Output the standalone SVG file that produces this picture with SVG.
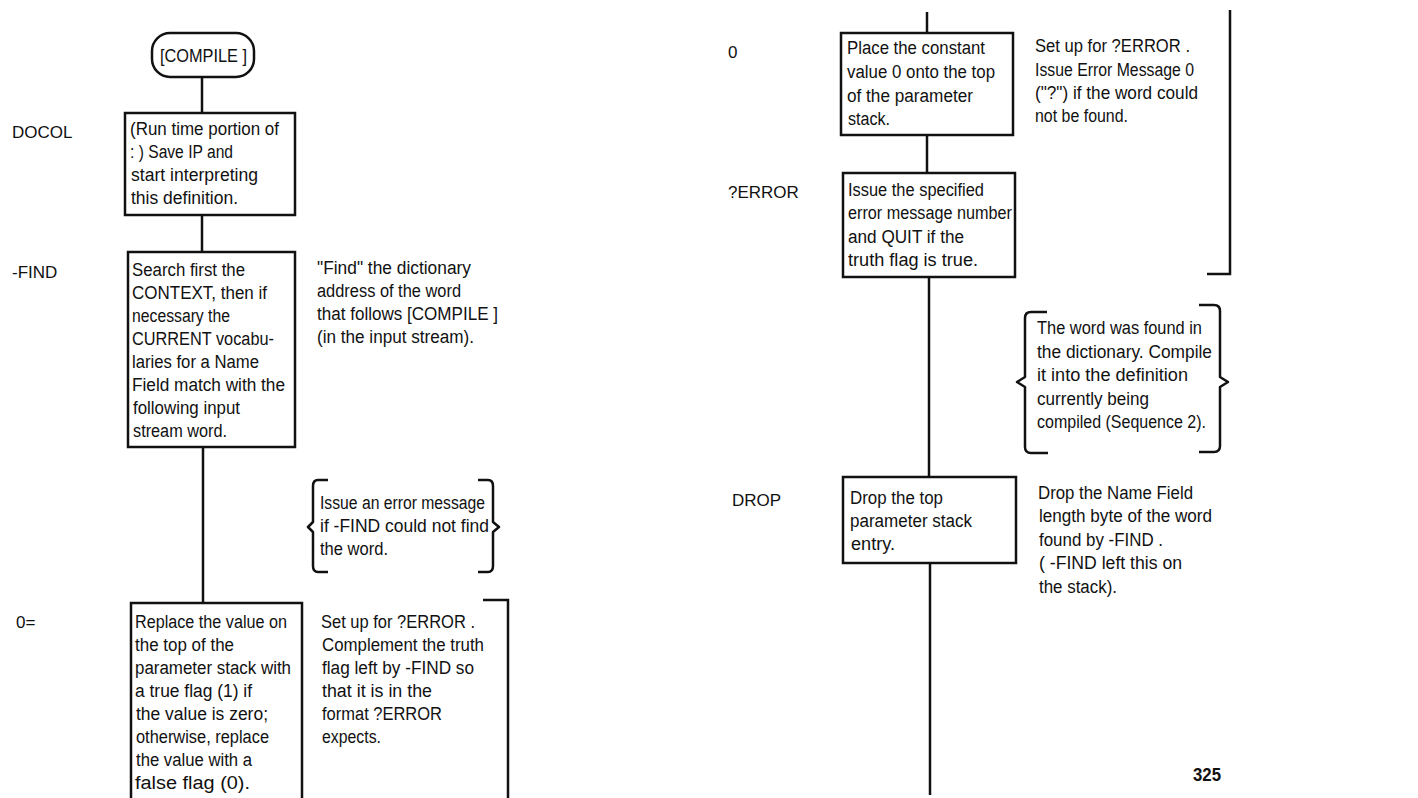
<svg xmlns="http://www.w3.org/2000/svg" width="1418" height="798" viewBox="0 0 1418 798">
<style>
.box{fill:#fff;stroke:#111;stroke-width:2.5}
.ln{fill:none;stroke:#111;stroke-width:2.5}
.br{fill:none;stroke:#111;stroke-width:2.5;stroke-linejoin:round}
.t{font-family:"Liberation Sans",sans-serif;font-size:18px;fill:#111}
.lb{font-family:"Liberation Sans",sans-serif;font-size:17px;fill:#111}
.pg{font-family:"Liberation Sans",sans-serif;font-size:18px;font-weight:bold;fill:#111}
</style>
<rect width="1418" height="798" fill="#fff"/>
<g id="connectors">
<line class="ln" x1="202" y1="77" x2="202" y2="113"/>
<line class="ln" x1="202" y1="215" x2="202" y2="252"/>
<line class="ln" x1="203" y1="447" x2="203" y2="603"/>
<line class="ln" x1="927" y1="12" x2="927" y2="33"/>
<line class="ln" x1="927" y1="135" x2="927" y2="173"/>
<line class="ln" x1="929" y1="277" x2="929" y2="477"/>
<line class="ln" x1="930" y1="563" x2="930" y2="795"/>
</g>
<g id="compile">
<rect class="box" x="152" y="33" width="102" height="44" rx="18"/>
<text class="t" x="160" y="62" textLength="87" lengthAdjust="spacingAndGlyphs">[COMPILE ]</text>
</g>
<g id="docol">
<text class="lb" x="12" y="138">DOCOL</text>
<rect class="box" x="125" y="113" width="170" height="102"/>
<text class="t" x="130" y="135" textLength="149" lengthAdjust="spacingAndGlyphs">(Run time portion of</text>
<text class="t" x="130" y="158" textLength="103" lengthAdjust="spacingAndGlyphs">: ) Save IP and</text>
<text class="t" x="131" y="181" textLength="127" lengthAdjust="spacingAndGlyphs">start interpreting</text>
<text class="t" x="131" y="204" textLength="107" lengthAdjust="spacingAndGlyphs">this definition.</text>
</g>
<g id="find">
<text class="lb" x="12" y="278">-FIND</text>
<rect class="box" x="128" y="252" width="167" height="195"/>
<text class="t" x="132" y="276" textLength="113" lengthAdjust="spacingAndGlyphs">Search first the</text>
<text class="t" x="132" y="299" textLength="135" lengthAdjust="spacingAndGlyphs">CONTEXT, then if</text>
<text class="t" x="132" y="322" textLength="98" lengthAdjust="spacingAndGlyphs">necessary the</text>
<text class="t" x="132" y="345" textLength="142" lengthAdjust="spacingAndGlyphs">CURRENT vocabu-</text>
<text class="t" x="132" y="368" textLength="127" lengthAdjust="spacingAndGlyphs">laries for a Name</text>
<text class="t" x="132" y="391" textLength="153" lengthAdjust="spacingAndGlyphs">Field match with the</text>
<text class="t" x="133" y="414" textLength="107" lengthAdjust="spacingAndGlyphs">following input</text>
<text class="t" x="133" y="437" textLength="94" lengthAdjust="spacingAndGlyphs">stream word.</text>
</g>
<g id="find-note">
<text class="t" x="317" y="274" textLength="154" lengthAdjust="spacingAndGlyphs">"Find" the dictionary</text>
<text class="t" x="317" y="297" textLength="144" lengthAdjust="spacingAndGlyphs">address of the word</text>
<text class="t" x="317" y="320" textLength="181" lengthAdjust="spacingAndGlyphs">that follows [COMPILE ]</text>
<text class="t" x="317" y="343" textLength="157" lengthAdjust="spacingAndGlyphs">(in the input stream).</text>
</g>
<g id="error-note">
<path class="br" d="M328,480 L318,480 Q313,480 313,486 L313,522 L308,527 L313,532 L313,566 Q313,572 318,572 L328,572"/>
<path class="br" d="M478,480 L488,480 Q493,480 493,486 L493,522 L499,527 L493,532 L493,566 Q493,572 488,572 L478,572"/>
<text class="t" x="320" y="509" textLength="165" lengthAdjust="spacingAndGlyphs">Issue an error message</text>
<text class="t" x="320" y="532" textLength="169" lengthAdjust="spacingAndGlyphs">if -FIND could not find</text>
<text class="t" x="320" y="555" textLength="68" lengthAdjust="spacingAndGlyphs">the word.</text>
</g>
<g id="zeroeq">
<text class="lb" x="16" y="628">0=</text>
<rect class="box" x="131" y="603" width="171" height="210"/>
<text class="t" x="135" y="628" textLength="152" lengthAdjust="spacingAndGlyphs">Replace the value on</text>
<text class="t" x="135" y="651" textLength="99" lengthAdjust="spacingAndGlyphs">the top of the</text>
<text class="t" x="135" y="674" textLength="156" lengthAdjust="spacingAndGlyphs">parameter stack with</text>
<text class="t" x="135" y="697" textLength="117" lengthAdjust="spacingAndGlyphs">a true flag (1) if</text>
<text class="t" x="136" y="720" textLength="132" lengthAdjust="spacingAndGlyphs">the value is zero;</text>
<text class="t" x="136" y="743" textLength="133" lengthAdjust="spacingAndGlyphs">otherwise, replace</text>
<text class="t" x="136" y="766" textLength="116" lengthAdjust="spacingAndGlyphs">the value with a</text>
<text class="t" x="135" y="789" textLength="115" lengthAdjust="spacingAndGlyphs">false flag (0).</text>
</g>
<g id="zeroeq-note">
<text class="t" x="321" y="628" textLength="154" lengthAdjust="spacingAndGlyphs">Set up for ?ERROR .</text>
<text class="t" x="322" y="651" textLength="162" lengthAdjust="spacingAndGlyphs">Complement the truth</text>
<text class="t" x="322" y="674" textLength="152" lengthAdjust="spacingAndGlyphs">flag left by -FIND so</text>
<text class="t" x="322" y="697" textLength="110" lengthAdjust="spacingAndGlyphs">that it is in the</text>
<text class="t" x="322" y="720" textLength="120" lengthAdjust="spacingAndGlyphs">format ?ERROR</text>
<text class="t" x="322" y="743" textLength="59" lengthAdjust="spacingAndGlyphs">expects.</text>
<path class="ln" d="M483,600 L508,600 L508,798"/>
</g>
<g id="zero">
<text class="lb" x="728" y="58">0</text>
<rect class="box" x="841" y="33" width="172" height="102"/>
<text class="t" x="847" y="54" textLength="138" lengthAdjust="spacingAndGlyphs">Place the constant</text>
<text class="t" x="847" y="78" textLength="148" lengthAdjust="spacingAndGlyphs">value 0 onto the top</text>
<text class="t" x="847" y="102" textLength="126" lengthAdjust="spacingAndGlyphs">of the parameter</text>
<text class="t" x="848" y="125" textLength="42" lengthAdjust="spacingAndGlyphs">stack.</text>
</g>
<g id="zero-note">
<text class="t" x="1035" y="52" textLength="155" lengthAdjust="spacingAndGlyphs">Set up for ?ERROR .</text>
<text class="t" x="1035" y="76" textLength="159" lengthAdjust="spacingAndGlyphs">Issue Error Message 0</text>
<text class="t" x="1035" y="99" textLength="163" lengthAdjust="spacingAndGlyphs">("?") if the word could</text>
<text class="t" x="1035" y="122" textLength="93" lengthAdjust="spacingAndGlyphs">not be found.</text>
<path class="ln" d="M1230,10 L1230,274 L1207,274"/>
</g>
<g id="qerror">
<text class="lb" x="728" y="198">?ERROR</text>
<rect class="box" x="843" y="173" width="172" height="104"/>
<text class="t" x="848" y="196" textLength="136" lengthAdjust="spacingAndGlyphs">Issue the specified</text>
<text class="t" x="848" y="219" textLength="164" lengthAdjust="spacingAndGlyphs">error message number</text>
<text class="t" x="848" y="243" textLength="116" lengthAdjust="spacingAndGlyphs">and QUIT if the</text>
<text class="t" x="848" y="266" textLength="130" lengthAdjust="spacingAndGlyphs">truth flag is true.</text>
</g>
<g id="found-note">
<path class="br" d="M1047,312 L1031,312 Q1025,312 1025,318 L1025,377 L1017,382 L1025,387 L1025,447 Q1025,453 1031,453 L1048,453"/>
<path class="br" d="M1199,305 L1214,305 Q1220,305 1220,311 L1220,377 L1228,382 L1220,387 L1220,446 Q1220,452 1214,452 L1199,452"/>
<text class="t" x="1037" y="334" textLength="165" lengthAdjust="spacingAndGlyphs">The word was found in</text>
<text class="t" x="1037" y="358" textLength="175" lengthAdjust="spacingAndGlyphs">the dictionary. Compile</text>
<text class="t" x="1037" y="381" textLength="151" lengthAdjust="spacingAndGlyphs">it into the definition</text>
<text class="t" x="1037" y="405" textLength="112" lengthAdjust="spacingAndGlyphs">currently being</text>
<text class="t" x="1037" y="428" textLength="169" lengthAdjust="spacingAndGlyphs">compiled (Sequence 2).</text>
</g>
<g id="drop">
<text class="lb" x="732" y="506">DROP</text>
<rect class="box" x="843" y="477" width="173" height="86"/>
<text class="t" x="850" y="504" textLength="93" lengthAdjust="spacingAndGlyphs">Drop the top</text>
<text class="t" x="850" y="527" textLength="122" lengthAdjust="spacingAndGlyphs">parameter stack</text>
<text class="t" x="851" y="550" textLength="44" lengthAdjust="spacingAndGlyphs">entry.</text>
</g>
<g id="drop-note">
<text class="t" x="1038" y="499" textLength="155" lengthAdjust="spacingAndGlyphs">Drop the Name Field</text>
<text class="t" x="1039" y="522" textLength="173" lengthAdjust="spacingAndGlyphs">length byte of the word</text>
<text class="t" x="1039" y="546" textLength="124" lengthAdjust="spacingAndGlyphs">found by -FIND .</text>
<text class="t" x="1039" y="569" textLength="143" lengthAdjust="spacingAndGlyphs">( -FIND left this on</text>
<text class="t" x="1039" y="593" textLength="78" lengthAdjust="spacingAndGlyphs">the stack).</text>
</g>
<text class="pg" x="1193" y="781" textLength="28" lengthAdjust="spacingAndGlyphs">325</text>
</svg>
